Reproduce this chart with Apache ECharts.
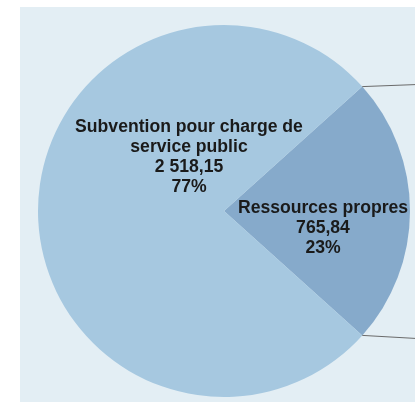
<!DOCTYPE html>
<html>
<head>
<meta charset="utf-8">
<script src="https://cdn.jsdelivr.net/npm/echarts@6/dist/echarts.min.js"></script>
<style>
  html, body { margin: 0; padding: 0; background: #fff; }
  #chart { width: 415px; height: 403px; }
</style>
</head>
<body>
<div id="chart"></div>
<script>
// parts of the budget
const names = ["Ressources propres", "Subvention pour charge de\nservice public"];
const values = [765.84, 2518.15];
const valueTexts = ["765,84", "2 518,15"];
const colors = ["#86aacb", "#a6c8e0"];

const cx = 224, cy = 211, r = 186;

// first slice is centred on the right side
const total = values[0] + values[1];
const halfAngle = (values[0] / total) * 180;

const dom = document.getElementById("chart");
let chart = echarts.init(dom);

let data = [];
for (let i = 0; i < names.length; i++) {
  data.push({
    name: names[i],
    value: values[i],
    itemStyle: { color: colors[i] },
    label: { offset: i === 0 ? [3, 17] : [61, -54] },
  });
}

// leader lines from the slice edges to the right border
function edgePoint(deg) {
  const a = (deg * Math.PI) / 180;
  return [cx + r * Math.cos(a), cy - r * Math.sin(a)];
}
const upperEdge = edgePoint(halfAngle);
const lowerEdge = edgePoint(-halfAngle);

const option = {
  animation: false,
  graphic: [
    {
      type: "rect",
      shape: { x: 20, y: 7, width: 400, height: 395 },
      style: { fill: "#e3eef4" },
      z: -10,
    },
    {
      type: "polyline",
      shape: { points: [upperEdge, [415, upperEdge[1] - 2]] },
      style: { stroke: "#6a6a6a", lineWidth: 1 },
      z: 10,
    },
    {
      type: "polyline",
      shape: { points: [lowerEdge, [415, lowerEdge[1] + 3]] },
      style: { stroke: "#6a6a6a", lineWidth: 1 },
      z: 10,
    },
  ],
  series: [
    {
      type: "pie",
      center: [cx, cy],
      radius: r,
      startAngle: halfAngle,
      clockwise: true,
      data: data,
      label: {
        position: "inside",
        fontFamily: "Liberation Sans, Arial, sans-serif",
        fontWeight: "bold",
        fontSize: 17.6,
        lineHeight: 20,
        color: "#1a1a1a",
        align: "center",
        formatter: (p) => {
          return p.name + "\n" + valueTexts[p.dataIndex] + "\n" + Math.round(p.percent) + "%";
        },
      },
      labelLine: { show: false },
      emphasis: { disabled: true },
    },
  ],
};

chart.setOption(option);
</script>
</body>
</html>
